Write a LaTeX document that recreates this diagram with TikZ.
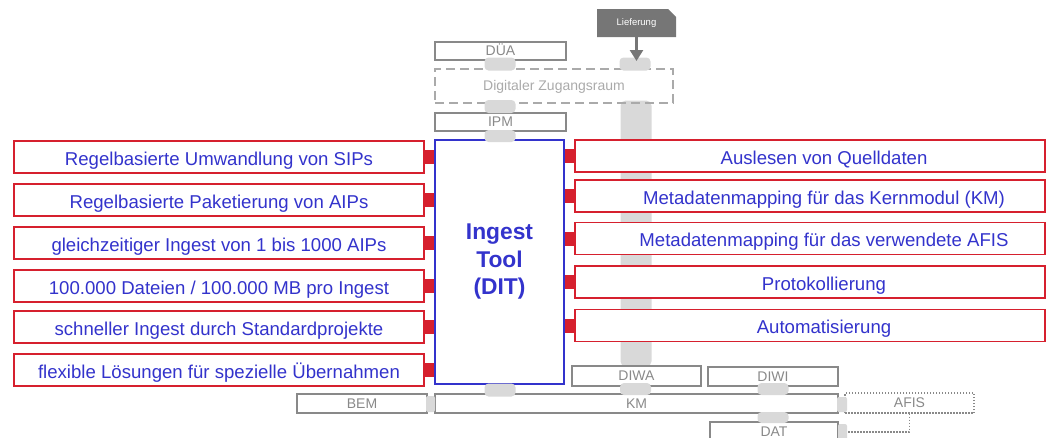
\documentclass[tikz,border=0pt]{standalone}
\usepackage{fontspec}
\setmainfont{Liberation Sans}
\usetikzlibrary{shapes.misc,arrows.meta}
\pgfdeclarelayer{bg}
\pgfsetlayers{bg,main}
\definecolor{featblue}{RGB}{51,51,204}
\definecolor{featred}{RGB}{214,32,46}
\definecolor{modgray}{RGB}{137,137,137}
\definecolor{zugray}{RGB}{170,170,170}
\definecolor{padgray}{RGB}{217,217,217}
\definecolor{liefgray}{RGB}{118,118,118}
\tikzset{
	feat/.style={draw=featred, line width=1.6pt, fill=white, text=featblue,
		minimum height=32pt, inner sep=0pt, text height=16pt, text depth=0pt,
		font=\fontsize{18.6}{20}\selectfont},
	featl/.style={feat, minimum width=410pt},
	featr/.style={feat, minimum width=470pt, execute at begin node={\hspace*{28pt}}},
	modbox/.style={draw=modgray, line width=1.2pt, text=modgray, inner sep=0pt,
		minimum height=19pt, text height=10pt, text depth=1pt,
		font=\fontsize{14}{16}\selectfont},
	pad/.style={fill=padgray, rounded corners=4pt, inner sep=0pt,
		minimum width=31pt, minimum height=13pt},
	sidepad/.style={pad, rounded corners=2pt, minimum width=9pt, minimum height=16pt},
	link/.style={draw=featred, line width=14pt},
	lief/.style={chamfered rectangle, chamfered rectangle corners=north east,
		chamfered rectangle xsep=5pt, fill=liefgray, text=white, inner sep=0pt,
		minimum width=79pt, minimum height=28pt, font=\fontsize{9.5}{11}\selectfont},
	feed/.style={draw=liefgray, line width=2.5pt, -{Triangle[length=11pt,width=13pt]}}
}

\begin{document}
\begin{tikzpicture}[x=1pt,y=-1pt]
	\useasboundingbox (0,0) rectangle (1060,437);
	% tool
	\node[draw=featblue, line width=1.2pt, minimum width=129pt, minimum height=244pt,
		align=center, text=featblue, font=\fontsize{22.8}{27.5}\selectfont\bfseries]
		(dit) at (499.5,262) {Ingest\\Tool\\(DIT)};
	% left features
	\node[featl] (l1) at (219,157) {Regelbasierte Umwandlung von SIPs};
	\node[featl] (l2) at (219,200) {Regelbasierte Paketierung von AIPs};
	\node[featl] (l3) at (219,243) {gleichzeitiger Ingest von 1 bis 1000 AIPs};
	\node[featl] (l4) at (219,286) {100.000 Dateien / 100.000 MB pro Ingest};
	\node[featl] (l5) at (219,327) {schneller Ingest durch Standardprojekte};
	\node[featl] (l6) at (219,370) {flexible Lösungen für spezielle Übernahmen};
	% right features
	\node[featr] (r1) at (810,156) {Auslesen von Quelldaten};
	\node[featr] (r2) at (810,196) {Metadatenmapping für das Kernmodul (KM)};
	\node[featr] (r3) at (810,238.5) {Metadatenmapping für das verwendete AFIS};
	\node[featr] (r4) at (810,282) {Protokollierung};
	\node[featr] (r5) at (810,325.5) {Automatisierung};
	% modules
	\node[lief] (lief) at (636.5,23) {Lieferung};
	\node[modbox, minimum width=131pt, minimum height=18pt] (dua) at (500.5,51) {DÜA};
	\node[modbox, draw=zugray, text=zugray, dash pattern=on 9pt off 5pt,
		minimum width=238pt, minimum height=34pt] (dza) at (554,86) {Digitaler Zugangsraum};
	\node[modbox, minimum width=131pt, minimum height=18pt] (ipm) at (500.5,122) {IPM};
	\node[modbox, minimum width=129pt, minimum height=20pt] (diwa) at (636.5,376) {DIWA};
	\node[modbox, minimum width=130pt] (diwi) at (773,376.5) {DIWI};
	\node[modbox, minimum width=130pt] (bem) at (362,403.5) {BEM};
	\node[modbox, minimum width=403pt] (km) at (636.5,403.5) {KM};
	\node[modbox, dash pattern=on 1.5pt off 1.5pt, minimum width=129pt,
		minimum height=20pt] (afis) at (909.5,403) {AFIS};
	\node[modbox, minimum width=128pt] (dat) at (774,431.5) {DAT};
	% pads
	\node[pad] (pdua) at (500,64) {};
	\node[pad] (plief) at (635,64) {};
	\node[pad] (pdza) at (500,106.5) {};
	\node[pad, minimum height=12pt] (pipm) at (500,136) {};
	\node[pad] (pdit) at (500,390) {};
	\node[pad, minimum height=12pt] (pdiwa) at (635.5,389) {};
	\node[pad, minimum height=12pt] (pdiwi) at (773,389) {};
	\node[pad, minimum height=11pt] (pdat) at (773,417.5) {};
	\node[sidepad] (pbem) at (430.5,404) {};
	\node[sidepad, minimum width=10pt, minimum height=15pt] (pafis) at (842,404.5) {};
	\node[sidepad] (pdatr) at (842.5,432) {};
	%
	\begin{pgfonlayer}{bg}
		% bus from Zugangsraum to DIWA
		\fill[padgray, rounded corners=5pt]
			([xshift=-16pt,yshift=3pt]dza.south -| diwa.north) rectangle
			([xshift=15pt,yshift=-1pt]diwa.north);
		\path[link]
		% left links
		(l1.east) edge (l1.east -| dit.west)
		(l2.east) edge (l2.east -| dit.west)
		(l3.east) edge (l3.east -| dit.west)
		(l4.east) edge (l4.east -| dit.west)
		(l5.east) edge (l5.east -| dit.west)
		(l6.east) edge (l6.east -| dit.west)
		% right links
		(r1.west) edge (r1.west -| dit.east)
		(r2.west) edge (r2.west -| dit.east)
		(r3.west) edge (r3.west -| dit.east)
		(r4.west) edge (r4.west -| dit.east)
		(r5.west) edge (r5.west -| dit.east);
	\end{pgfonlayer}
	% delivery arrow and AFIS to DAT
	\draw[feed, shorten >=3pt] (lief.south) -- (lief.south |- plief.center);
	\draw[modgray, line width=1.2pt, dash pattern=on 1.5pt off 1.5pt]
		(afis.south) |- (pdatr.east);
\end{tikzpicture}
\end{document}
